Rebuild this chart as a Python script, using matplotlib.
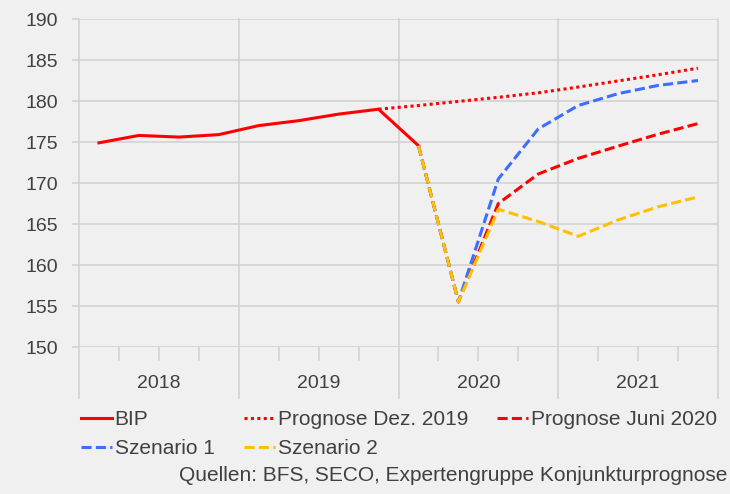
import matplotlib
matplotlib.use('Agg')
import matplotlib.pyplot as plt
import numpy as np

plt.rcParams['font.family'] = ['Liberation Sans', 'DejaVu Sans']

## quarterly index values, 2018Q1 .. 2021Q4
years = ['2018', '2019', '2020', '2021']
nQuarters = 16

bip = [174.9, 175.8, 175.6, 175.9, 177.0, 177.6, 178.4, 179.0, 174.55]
progDez2019 = [179.0, 179.45, 179.95, 180.45, 181.0, 181.7, 182.45, 183.2, 184.0]  # from 2019Q4
progJuni2020 = [174.55, 155.5, 167.5, 171.1, 173.0, 174.5, 175.95, 177.25]  # from 2020Q1
szenario1 = [174.55, 155.5, 170.5, 176.6, 179.45, 180.9, 181.9, 182.5]
szenario2 = [174.55, 155.5, 166.8, 165.3, 163.5, 165.5, 167.1, 168.3]

yticks = [150, 155, 160, 165, 170, 175, 180, 185, 190]
source = 'Quellen: BFS, SECO, Expertengruppe Konjunkturprognose'

bg = '#F0F0F0'
gridc = '#D3D3D3'
textc = '#404040'
red = '#FF0000'
blue = '#3C6EFF'
yellow = '#FFC000'

fig = plt.figure(figsize=(7.3, 4.94), dpi=100, facecolor=bg)
ax = fig.add_axes([79/730, 1-347/494, (718-79)/730, (347-19)/494])
ax.set_facecolor(bg)

x = np.arange(nQuarters)
lw = 2.2
ax.plot(x[:len(bip)], bip, color=red, lw=lw, solid_joinstyle='miter', label='BIP')
ax.plot(x[7:7+len(progDez2019)], progDez2019, color=red, lw=lw,
        dashes=(1, 1.1), label='Prognose Dez. 2019')
ax.plot(x[8:8+len(progJuni2020)], progJuni2020, color=red, lw=lw,
        dashes=(3.3, 1.4), label='Prognose Juni 2020')
ax.plot(x[8:8+len(szenario1)], szenario1, color=blue, lw=lw,
        dashes=(3.3, 1.4), label='Szenario 1')
ax.plot(x[8:8+len(szenario2)], szenario2, color=yellow, lw=lw,
        dashes=(3.3, 1.4), label='Szenario 2')

ax.set_xlim(-0.5, nQuarters - 0.5)
ax.set_ylim(150, 190)
ax.set_yticks(yticks)
for s in ax.spines.values():
    s.set_visible(False)
ax.grid(axis='y', color=gridc, lw=1.2)
ax.set_axisbelow(True)
ax.tick_params(axis='y', length=5, width=1.2, color=gridc, pad=10,
               labelsize=14, labelcolor=textc)

## year boundaries: long lines through plot and below, quarter ticks short
yearEdges = np.arange(-0.5, nQuarters, 4)
for xe in yearEdges:
    ax.plot([xe, xe], [-(398-347)/328, 1], transform=ax.get_xaxis_transform(),
            color=gridc, lw=1.2, clip_on=False, zorder=0)
qEdges = [q + 0.5 for q in range(nQuarters - 1) if (q + 1) % 4 != 0]
ax.set_xticks(qEdges)
ax.set_xticklabels([])
ax.tick_params(axis='x', length=10, width=1.2, color=gridc)
for i, yr in enumerate(years):
    ax.text(4*i + 1.5, -(383-347)/328, yr, transform=ax.get_xaxis_transform(),
            ha='center', va='center', fontsize=14, color=textc)

order = [0, 3, 1, 4, 2]
handles, labels = ax.get_legend_handles_labels()
leg = fig.legend([handles[i] for i in order], [labels[i] for i in order],
                 loc='upper left', bbox_to_anchor=(81/730, 1-410/494), ncol=3,
                 frameon=False, fontsize=15, handlelength=1.5, handletextpad=0.12,
                 columnspacing=1.4, labelspacing=0.5, borderpad=0, borderaxespad=0)
for t in leg.get_texts():
    t.set_color(textc)

fig.text(727/730, 1-475/494, source, ha='right', va='center', fontsize=15, color=textc)

fig.savefig('out.png', dpi=100, facecolor=bg)
